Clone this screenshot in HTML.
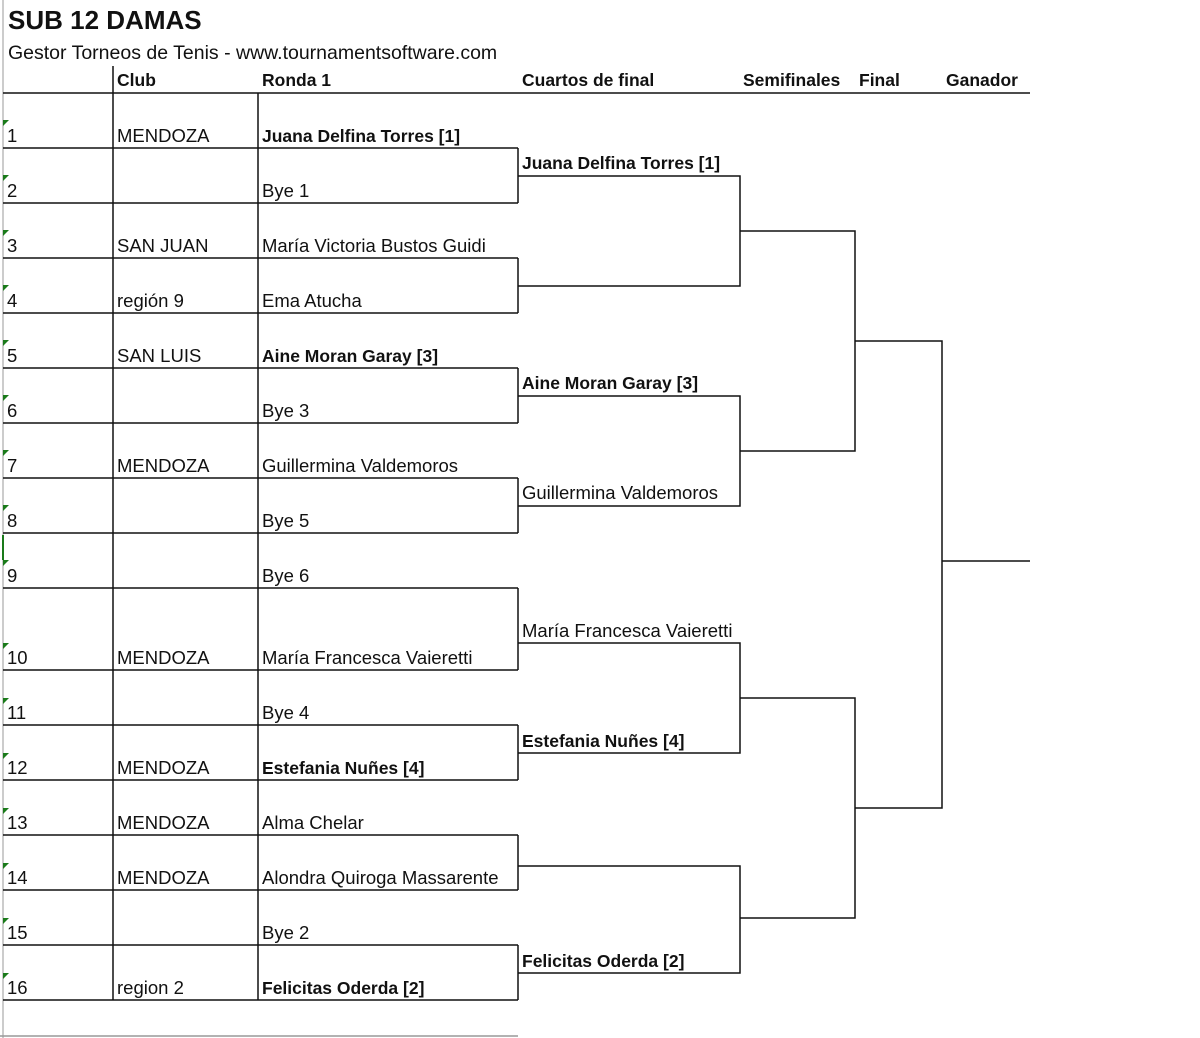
<!DOCTYPE html>
<html><head><meta charset="utf-8"><style>
html,body{margin:0;padding:0;background:#fff;}
svg{display:block;}
text{font-family:"Liberation Sans",sans-serif;font-size:18.5px;fill:#111;}
.b{font-weight:bold;font-size:17.5px;}
</style></head><body>
<svg width="1200" height="1038" viewBox="0 0 1200 1038">
<rect width="1200" height="1038" fill="#fff"/>
<line x1="3" y1="0" x2="3" y2="1038" stroke="#bbb" stroke-width="1.5"/>
<line x1="0" y1="1036" x2="518" y2="1036" stroke="#999" stroke-width="1.5"/>
<text x="8" y="29" class="b" style="font-size:26px">SUB 12 DAMAS</text>
<text x="8" y="59" style="font-size:19.5px">Gestor Torneos de Tenis - www.tournamentsoftware.com</text>
<text x="117" y="86" class="b">Club</text>
<text x="262" y="86" class="b">Ronda 1</text>
<text x="522" y="86" class="b">Cuartos de final</text>
<text x="743" y="86" class="b">Semifinales</text>
<text x="859" y="86" class="b">Final</text>
<text x="946" y="86" class="b">Ganador</text>
<g stroke="#111" stroke-width="1.5" fill="none">
<line x1="3" y1="93" x2="1030" y2="93"/>
<line x1="113" y1="66" x2="113" y2="1000"/>
<line x1="258" y1="93" x2="258" y2="1000"/>
<path d="M3 148H518M3 203H518M3 258H518M3 313H518M3 368H518M3 423H518M3 478H518M3 533H518M3 588H518M3 670H518M3 725H518M3 780H518M3 835H518M3 890H518M3 945H518M3 1000H518"/>
<path d="M518 148V203M518 258V313M518 368V423M518 478V533M518 588V670M518 725V780M518 835V890M518 945V1000"/>
<path d="M518 176H740V286H518M518 396H740V506H518M518 643H740V753H518M518 866H740V973H518"/>
<path d="M740 231H855V451H740M740 698H855V918H740"/>
<path d="M855 341H942V808H855M942 561H1030"/>
</g>
<g fill="#1a7a1a">
<path d="M3 120l6 0l-6 6z"/><path d="M3 175l6 0l-6 6z"/><path d="M3 230l6 0l-6 6z"/><path d="M3 285l6 0l-6 6z"/>
<path d="M3 340l6 0l-6 6z"/><path d="M3 395l6 0l-6 6z"/><path d="M3 450l6 0l-6 6z"/><path d="M3 505l6 0l-6 6z"/>
<path d="M3 560l6 0l-6 6z"/><path d="M3 643l6 0l-6 6z"/><path d="M3 698l6 0l-6 6z"/><path d="M3 753l6 0l-6 6z"/>
<path d="M3 808l6 0l-6 6z"/><path d="M3 863l6 0l-6 6z"/><path d="M3 918l6 0l-6 6z"/><path d="M3 973l6 0l-6 6z"/>
<rect x="2" y="535" width="2" height="25"/>
</g>
<g>
<text x="7" y="142">1</text><text x="117" y="142">MENDOZA</text><text x="262" y="142" class="b">Juana Delfina Torres [1]</text>
<text x="7" y="197">2</text><text x="262" y="197">Bye 1</text>
<text x="7" y="252">3</text><text x="117" y="252">SAN JUAN</text><text x="262" y="252">María Victoria Bustos Guidi</text>
<text x="7" y="307">4</text><text x="117" y="307">región 9</text><text x="262" y="307">Ema Atucha</text>
<text x="7" y="362">5</text><text x="117" y="362">SAN LUIS</text><text x="262" y="362" class="b">Aine Moran Garay [3]</text>
<text x="7" y="417">6</text><text x="262" y="417">Bye 3</text>
<text x="7" y="472">7</text><text x="117" y="472">MENDOZA</text><text x="262" y="472">Guillermina Valdemoros</text>
<text x="7" y="527">8</text><text x="262" y="527">Bye 5</text>
<text x="7" y="582">9</text><text x="262" y="582">Bye 6</text>
<text x="7" y="664">10</text><text x="117" y="664">MENDOZA</text><text x="262" y="664">María Francesca Vaieretti</text>
<text x="7" y="719">11</text><text x="262" y="719">Bye 4</text>
<text x="7" y="774">12</text><text x="117" y="774">MENDOZA</text><text x="262" y="774" class="b">Estefania Nuñes [4]</text>
<text x="7" y="829">13</text><text x="117" y="829">MENDOZA</text><text x="262" y="829">Alma Chelar</text>
<text x="7" y="884">14</text><text x="117" y="884">MENDOZA</text><text x="262" y="884">Alondra Quiroga Massarente</text>
<text x="7" y="939">15</text><text x="262" y="939">Bye 2</text>
<text x="7" y="994">16</text><text x="117" y="994">region 2</text><text x="262" y="994" class="b">Felicitas Oderda [2]</text>
<text x="522" y="169" class="b">Juana Delfina Torres [1]</text>
<text x="522" y="389" class="b">Aine Moran Garay [3]</text>
<text x="522" y="499">Guillermina Valdemoros</text>
<text x="522" y="637">María Francesca Vaieretti</text>
<text x="522" y="747" class="b">Estefania Nuñes [4]</text>
<text x="522" y="967" class="b">Felicitas Oderda [2]</text>
</g>
</svg>
</body></html>
